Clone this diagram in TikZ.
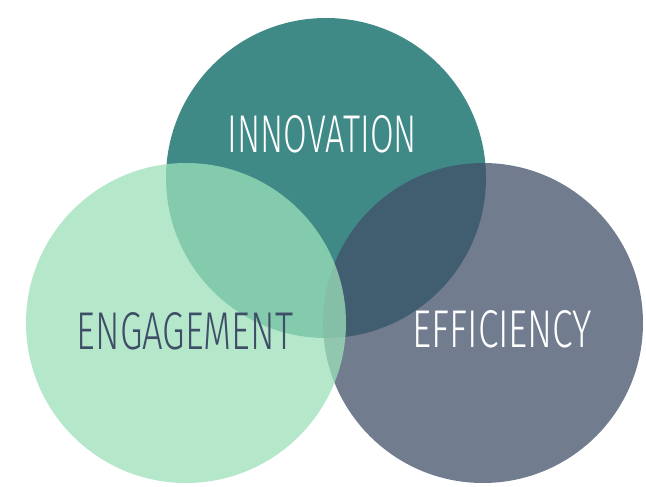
\documentclass[tikz,border=0pt]{standalone}
\usepackage{fontspec}
\usepackage{graphicx}
\newfontfamily\lblfont{Fira Sans}[UprightFont=* Light]
\definecolor{teal}{HTML}{3F8A87}
\definecolor{slate}{HTML}{42506A}
\definecolor{mint}{HTML}{9CE0BA}
\definecolor{inkdark}{HTML}{3F4D66}
\newcommand{\fitlabel}[2]{\resizebox{#1}{37pt}{\lblfont #2}}
\begin{document}
\begin{tikzpicture}[x=1pt,y=-1pt,
    disc/.style={opacity=0.75},
    lbl/.style={inner sep=0pt,anchor=center}]
  \useasboundingbox (0,0) rectangle (646,487);
  \fill[teal] (326,178) circle (160);
  \fill[slate,disc] (483,323) circle (160);
  \fill[mint,disc] (186,323) circle (160);
  \draw
    (322.5,134) node[lbl,text=white] (innovation){\fitlabel{189pt}{INNOVATION}}
    (185,331.5) node[lbl,text=inkdark] (engagement){\fitlabel{216pt}{ENGAGEMENT}}
    (502.5,329.5) node[lbl,text=white] (efficiency){\fitlabel{179pt}{EFFICIENCY}};
\end{tikzpicture}
\end{document}
